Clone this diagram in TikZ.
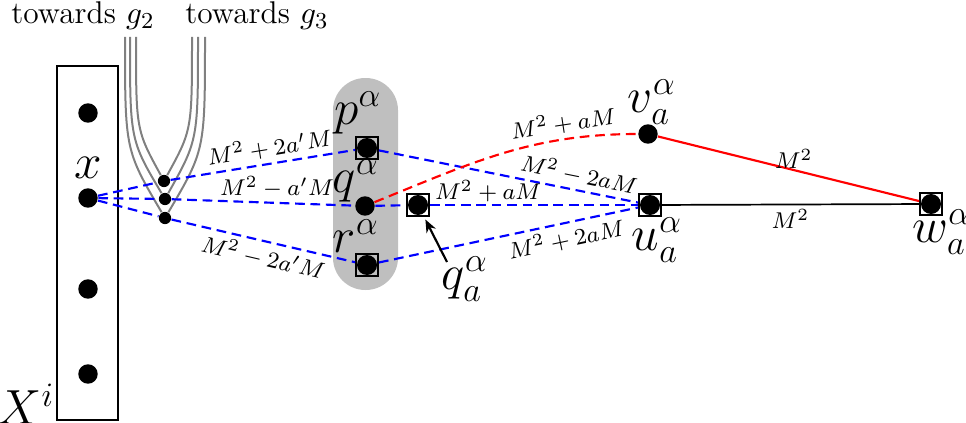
\documentclass[tikz,border=0pt]{standalone}
\usetikzlibrary{arrows.meta}
\begin{document}
\begin{tikzpicture}[x=0.35pt,y=-0.35pt,
  bigdot/.style={circle,fill=black,inner sep=0pt,minimum size=6.8pt},
  smalldot/.style={circle,fill=black,inner sep=0pt,minimum size=4.3pt},
  sqdot/.style={rectangle,draw=black,line width=0.55pt,inner sep=0pt,minimum size=7.8pt,
     path picture={\fill[black] (path picture bounding box.center) circle (3.5pt);}},
  lab/.style={font=\LARGE,inner sep=0pt},
  elab/.style={font=\footnotesize,inner sep=1.5pt,text=black},
  bluedash/.style={blue,line width=0.75pt,dash pattern=on 3.4pt off 2pt},
  reddash/.style={red,line width=0.75pt,dash pattern=on 3.4pt off 2pt},
  strand/.style={gray,line width=0.7pt}]
\useasboundingbox (0,0) rectangle (966,422);
% frame and blob
\node[draw,line width=0.75pt,minimum width=21.35pt,minimum height=123.9pt,inner sep=0pt] (Xbox) at (87.5,243) {};
\node[fill=gray!50,rounded corners=11.3pt,minimum width=22.75pt,minimum height=74.2pt,inner sep=0pt] (blob) at (365.5,184) {};
% dots
\node[bigdot] (d1) at (88,113) {};
\node[bigdot] (xd) at (88,198) {};
\node[bigdot] (d3) at (88,289) {};
\node[bigdot] (d4) at (88,374) {};
\node[smalldot] (s1) at (164,181) {};
\node[smalldot] (s2) at (165,199) {};
\node[smalldot] (s3) at (165,218) {};
\node[sqdot] (p) at (367,148) {};
\node[bigdot] (q) at (365,206) {};
\node[sqdot] (r) at (367,265) {};
\node[sqdot] (qa) at (418,205) {};
\node[sqdot] (u) at (650,205) {};
\node[bigdot] (v) at (648,134) {};
\node[sqdot] (w) at (931,204) {};
% labels
\node[lab] (xl) at (88,168) {$x$};
\node[lab] (Xl) at (26,404) {$X^i$};
\node[lab] (pl) at (358,113) {$p^\alpha$};
\node[lab] (ql) at (356,181) {$q^\alpha$};
\node[lab] (rl) at (356,236) {$r^\alpha$};
\node[lab] (qal) at (465,279) {$q_a^\alpha$};
\node[lab] (ul) at (657,240) {$u_a^\alpha$};
\node[lab] (vl) at (652,102) {$v_a^\alpha$};
\node[lab] (wl) at (942,232) {$w_a^\alpha$};
\node[inner sep=0pt,font=\fontsize{11}{13}\selectfont] (t2) at (83,16) {towards $g_2$};
\node[inner sep=0pt,font=\fontsize{11}{13}\selectfont] (t3) at (257,16) {towards $g_3$};
% strands
\coordinate (a1) at (136,37);
\coordinate (a2) at (130,37);
\coordinate (a3) at (125,37);
\coordinate (b1) at (192,37);
\coordinate (b2) at (198,37);
\coordinate (b3) at (205,37);
\draw[strand] (a1) .. controls (136,130) .. (s1);
\draw[strand] (a2) .. controls (130,140) .. (s2);
\draw[strand] (a3) .. controls (125,150) .. (s3);
\draw[strand] (b1) .. controls (192,130) .. (s1);
\draw[strand] (b2) .. controls (198,140) .. (s2);
\draw[strand] (b3) .. controls (205,150) .. (s3);
% blue dashed
\draw[bluedash] (xd) -- (s1);
\draw[bluedash] (xd) -- (s2);
\draw[bluedash] (xd) -- (s3);
\draw[bluedash] (s1) -- node[elab,above,sloped,pos=0.55]{$M^2+2a'M$} (p);
\draw[bluedash] (s2) -- node[elab,above,pos=0.575]{$M^2-a'M$} (q);
\draw[bluedash] (s3) -- node[elab,below,sloped,pos=0.52]{$M^2-2a'M$} (r);
\draw[bluedash] (q) -- (qa);
\draw[bluedash] (p) -- node[elab,above,sloped,pos=0.76]{$M^2-2aM$} (u);
\draw[bluedash] (qa) -- node[elab,above,pos=0.28,inner sep=0.8pt]{$M^2+aM$} (u);
\draw[bluedash] (r) -- node[elab,below,sloped,pos=0.71]{$M^2+2aM$} (u);
% red
\draw[reddash] (q) to[out=22,in=180] node[elab,above,sloped,pos=0.75]{$M^2+aM$} (v);
\draw[red,line width=0.75pt] (v) -- node[elab,above,pos=0.52,inner sep=0.3pt]{$M^2$} (w);
\draw[black,line width=0.6pt] (u) -- node[elab,below]{$M^2$} (w);
% arrow
\coordinate (qatail) at (447,262);
\draw[-{Stealth[length=4.5pt,width=3.6pt]},line width=0.75pt,shorten >=1pt] (qatail) -- (qa);
\end{tikzpicture}
\end{document}
